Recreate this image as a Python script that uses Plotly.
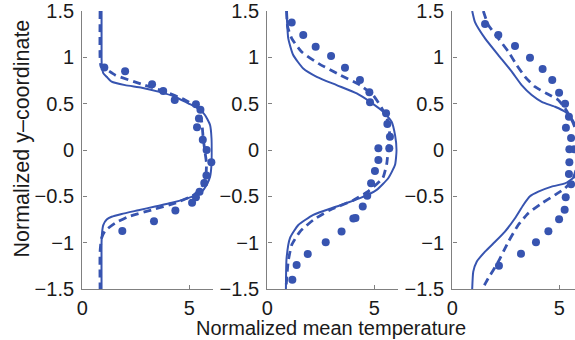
import plotly.graph_objects as go

# ---- Panel 1 ----
p1_solid_x = [0.9, 0.9, 0.91, 0.98, 1.14, 1.37, 2.0, 2.78, 3.55, 4.33, 4.95, 5.42, 5.73, 5.97, 6.04, 6.05,
              6.04, 5.97, 5.81, 5.58, 5.27, 4.8, 4.18, 3.4, 2.62, 1.84, 1.37, 1.14, 0.98, 0.92, 0.9, 0.9]
p1_solid_y = [1.5, 1.0, 0.92, 0.83, 0.79, 0.737, 0.70, 0.672, 0.63, 0.575, 0.504, 0.45, 0.378, 0.27, 0.126, 0.0,
              -0.15, -0.288, -0.378, -0.45, -0.49, -0.53, -0.57, -0.61, -0.65, -0.69, -0.72, -0.75, -0.81, -0.9, -1.0, -1.5]
p1_dash_x = [0.83, 0.83, 0.88, 1.06, 1.53, 2.78, 3.86, 4.8, 5.42, 5.58, 5.65, 5.72, 5.8, 5.77, 5.58, 5.22,
             4.33, 3.24, 2.15, 1.53, 1.06, 0.9, 0.83, 0.83]
p1_dash_y = [1.5, 1.0, 0.9, 0.88, 0.81, 0.71, 0.63, 0.54, 0.45, 0.305, 0.126, 0.0, -0.14, -0.29, -0.4, -0.485,
             -0.575, -0.647, -0.72, -0.79, -0.874, -0.95, -1.1, -1.5]
p1_dot_x = [1.03, 2.0, 3.26, 3.78, 4.32, 5.31, 5.52, 5.45, 5.36, 5.63, 5.81, 6.03, 5.8, 5.7, 5.48, 5.31,
            5.13, 4.35, 3.35, 1.87]
p1_dot_y = [0.89, 0.85, 0.71, 0.636, 0.54, 0.495, 0.435, 0.34, 0.245, 0.11, 0.0, -0.133, -0.275, -0.355, -0.45, -0.51,
            -0.57, -0.652, -0.77, -0.874]

# ---- Panel 2 ----
p2_solid_x = [0.9, 0.98, 1.21, 1.68, 2.31, 3.24, 4.18, 4.8, 5.42, 5.81, 5.97, 6.04, 5.97, 5.65, 5.11, 4.33,
              3.24, 2.15, 1.45, 1.06, 0.9, 0.87]
p2_solid_y = [1.5, 1.205, 1.025, 0.88, 0.79, 0.70, 0.61, 0.52, 0.413, 0.305, 0.16, 0.0, -0.16, -0.305, -0.43, -0.52,
              -0.61, -0.70, -0.81, -0.95, -1.17, -1.5]
p2_dash_x = [0.9, 0.95, 1.14, 1.6, 2.38, 3.4, 4.33, 4.95, 5.35, 5.65, 5.72, 5.65, 5.58, 5.4, 4.75, 4.0,
             2.93, 2.15, 1.53, 1.14, 0.98, 0.87]
p2_dash_y = [1.5, 1.33, 1.205, 1.06, 0.935, 0.81, 0.70, 0.59, 0.45, 0.305, 0.15, 0.0, -0.15, -0.3, -0.44, -0.545,
             -0.647, -0.755, -0.88, -1.025, -1.2, -1.5]
p2_dot_x = [1.14, 1.68, 2.26, 2.98, 3.63, 4.33, 4.77, 4.8, 5.55, 5.61, 5.73, 5.19, 5.7, 5.19, 5.03, 4.85,
            4.67, 4.46, 4.02, 4.12, 3.47, 2.73, 1.89, 1.37, 1.17]
p2_dot_y = [1.377, 1.24, 1.115, 1.014, 0.888, 0.755, 0.622, 0.514, 0.396, 0.28, 0.143, 0.018, 0.018, -0.108, -0.227, -0.36,
            -0.493, -0.61, -0.74, -0.735, -0.88, -0.996, -1.122, -1.24, -1.4]

# ---- Panel 3 ----
p3_solid_x = [0.93, 1.06, 1.53, 2.15, 2.78, 3.24, 3.71, 4.18, 4.8, 5.27, 5.58, 5.8, 5.9, 5.92, 5.9, 5.8,
              5.65, 5.27, 4.64, 4.02, 3.63, 3.32, 2.93, 2.46, 2.0, 1.53, 1.14, 0.98, 0.93]
p3_solid_y = [1.5, 1.38, 1.205, 1.025, 0.845, 0.70, 0.593, 0.52, 0.467, 0.413, 0.34, 0.24, 0.1, 0.0, -0.1, -0.22,
              -0.3, -0.36, -0.395, -0.45, -0.5, -0.593, -0.737, -0.88, -0.99, -1.097, -1.205, -1.313, -1.5]
p3_dash_x = [1.45, 1.68, 2.15, 2.62, 3.01, 3.4, 3.86, 4.41, 4.95, 5.27, 5.58, 5.8, 5.9, 5.8, 5.65, 5.27,
             4.8, 4.18, 3.55, 3.08, 2.62, 2.15, 1.68, 1.4]
p3_dash_y = [1.5, 1.35, 1.205, 1.06, 0.917, 0.79, 0.683, 0.61, 0.54, 0.45, 0.324, 0.2, 0.0, -0.2, -0.305, -0.413,
             -0.485, -0.575, -0.683, -0.81, -0.99, -1.205, -1.385, -1.5]
p3_dot_x = [1.53, 2.15, 2.93, 3.63, 4.22, 4.67, 4.99, 5.27, 5.45, 5.31, 5.55, 5.47, 5.7, 5.47, 5.45, 5.55,
            5.3, 5.25, 4.99, 4.49, 3.91, 3.21, 2.18]
p3_dot_y = [1.36, 1.24, 1.122, 0.996, 0.874, 0.755, 0.618, 0.5, 0.36, 0.24, 0.13, 0.007, 0.007, -0.133, -0.26, -0.37,
            -0.51, -0.645, -0.748, -0.877, -0.996, -1.12, -1.25]

x_ticks = [0, 5]
y_ticks = [-1.5, -1, -0.5, 0, 0.5, 1, 1.5]

BLUE = "rgb(55,84,176)"
AXIS = "#808080"
FONT = "Liberation Sans, Arial, sans-serif"

panels = [
    (p1_solid_x, p1_solid_y, p1_dash_x, p1_dash_y, p1_dot_x, p1_dot_y),
    (p2_solid_x, p2_solid_y, p2_dash_x, p2_dash_y, p2_dot_x, p2_dot_y),
    (p3_solid_x, p3_solid_y, p3_dash_x, p3_dash_y, p3_dot_x, p3_dot_y),
]

W, H = 575, 340
# panel pixel extents (left edge of each axis box) and shared vertical extent
px_left = [82.3, 267.3, 452.3]
px_unit = 21.4
x_max = 6.1
top_px, bot_px = 11, 289

fig = go.Figure()
layout = {}
for i, (sx, sy, dx, dy, mx, my) in enumerate(panels):
    n = "" if i == 0 else str(i + 1)
    xa, ya = "x" + n, "y" + n
    fig.add_trace(go.Scatter(x=sx, y=sy, mode="lines", xaxis=xa, yaxis=ya,
                             line=dict(color=BLUE, width=2, shape="spline", smoothing=0.5),
                             showlegend=False, hoverinfo="skip"))
    fig.add_trace(go.Scatter(x=dx, y=dy, mode="lines", xaxis=xa, yaxis=ya,
                             line=dict(color=BLUE, width=2.8, dash="8px,5px", shape="spline", smoothing=0.5),
                             showlegend=False, hoverinfo="skip"))
    fig.add_trace(go.Scatter(x=mx, y=my, mode="markers", xaxis=xa, yaxis=ya,
                             marker=dict(color=BLUE, size=8, line=dict(width=0)),
                             cliponaxis=False, showlegend=False, hoverinfo="skip"))

    left = px_left[i]
    right = left + x_max * px_unit
    dom_r = min(right / W, 1.0)
    rng_r = (dom_r * W - left) / px_unit
    common = dict(showline=True, linecolor=AXIS, linewidth=1.4, ticks="inside", ticklen=4,
                  tickcolor=AXIS, tickwidth=1, showgrid=False, zeroline=False, automargin=False,
                  tickfont=dict(family=FONT, size=20, color="#1a1a1a"), fixedrange=True,
                  ticklabeloverflow="allow")
    layout["xaxis" + n] = dict(common, domain=[left / W, dom_r], range=[0, rng_r],
                               tickvals=x_ticks, anchor=ya, ticklabelstandoff=1)
    layout["yaxis" + n] = dict(common, domain=[1 - bot_px / H, 1 - top_px / H], range=[-1.5, 1.5],
                               tickvals=y_ticks, anchor=xa, ticklabelstandoff=3)

fig.update_layout(**layout)
fig.update_layout(
    width=W, height=H,
    margin=dict(l=0, r=0, t=0, b=0),
    paper_bgcolor="white", plot_bgcolor="white",
    font=dict(family=FONT, color="#1a1a1a"),
    annotations=[
        dict(text="Normalized y–coordinate", xref="paper", yref="paper",
             x=21 / W, y=1 - 138.5 / H, textangle=-90, showarrow=False,
             font=dict(size=21.5), xanchor="center", yanchor="middle"),
        dict(text="Normalized mean temperature", xref="paper", yref="paper",
             x=331 / W, y=1 - 327.5 / H, showarrow=False,
             font=dict(size=20), xanchor="center", yanchor="middle"),
    ],
)

fig.write_html("out.html")
